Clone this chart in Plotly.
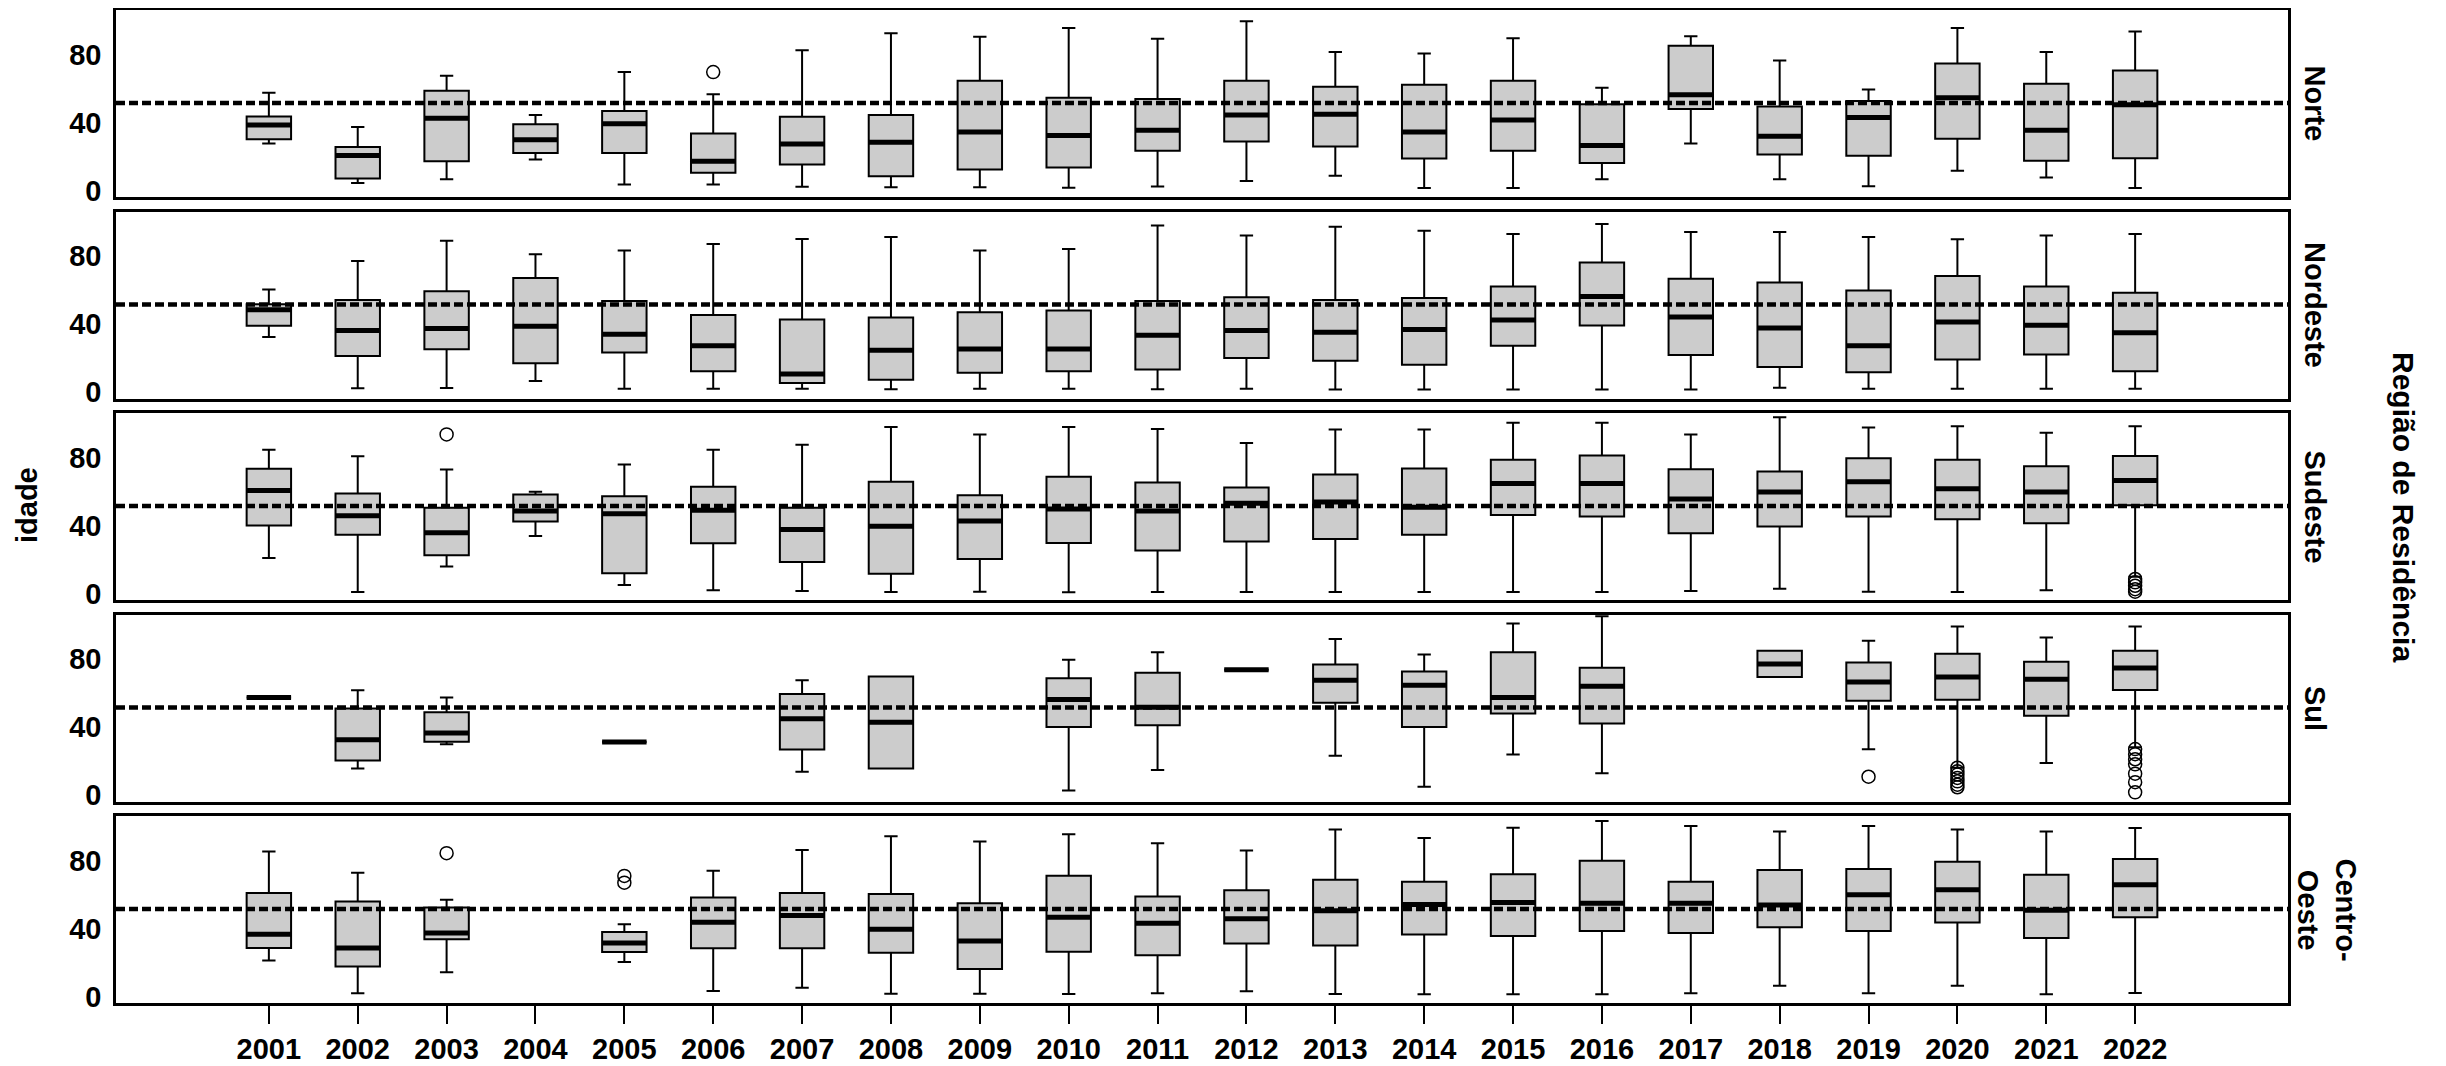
import plotly.graph_objects as go
from plotly.subplots import make_subplots

YEARS = list(range(2001, 2023))
REGIONS = ["Norte", "Nordeste", "Sudeste", "Sul", "Centro-<br>Oeste"]
REF_AGE = 51.5

# ---- Norte ----
NORTE_LO  = [27.6, 4.3, 6.5, 18.2, 3.5, 3.5, 2.2, 1.8, 1.8, 1.6, 2.3, 5.5, 8.6, 1.4, 1.4, 6.5, 27.6, 6.5, 2.5, 11.5, 7.6, 1.4]
NORTE_Q1  = [30.1, 7.0, 17.2, 22.1, 22.1, 10.4, 15.3, 8.4, 12.3, 13.5, 23.3, 28.8, 25.8, 18.8, 23.3, 16.2, 47.9, 21.1, 20.4, 30.5, 17.4, 19.0]
NORTE_MED = [38.6, 20.5, 42.5, 29.9, 39.3, 17.2, 27.4, 28.4, 34.4, 32.3, 35.4, 44.4, 44.8, 34.4, 41.5, 26.4, 56.4, 31.9, 42.9, 54.6, 35.4, 50.5]
NORTE_Q3  = [43.6, 25.6, 58.7, 38.9, 46.8, 33.5, 43.4, 44.4, 64.6, 54.6, 53.8, 64.6, 61.1, 62.2, 64.6, 50.7, 85.3, 49.5, 52.6, 74.8, 62.8, 70.6]
NORTE_HI  = [57.5, 37.4, 67.5, 44.4, 69.7, 56.6, 82.6, 92.6, 90.6, 95.7, 89.4, 99.6, 81.6, 80.6, 89.6, 60.5, 90.8, 76.5, 59.5, 95.7, 81.6, 93.7]
NORTE_OUT_X = [2006]
NORTE_OUT_Y = [69.7]

# ---- Nordeste ----
NORDESTE_LO  = [32.3, 2.1, 2.3, 6.4, 1.8, 1.9, 1.8, 1.6, 1.9, 1.9, 1.6, 1.8, 1.4, 1.4, 1.4, 1.4, 1.4, 2.5, 1.8, 1.8, 1.8, 1.8]
NORDESTE_Q1  = [38.9, 21.2, 25.1, 16.9, 23.2, 12.1, 5.3, 7.2, 11.3, 12.1, 13.2, 20.0, 18.3, 16.0, 27.2, 39.1, 21.8, 14.6, 11.5, 19.1, 22.0, 12.1]
NORDESTE_MED = [48.4, 36.2, 37.4, 38.7, 33.9, 27.2, 10.5, 24.5, 25.3, 25.3, 33.3, 36.2, 35.2, 36.8, 42.4, 56.2, 44.2, 37.7, 27.2, 41.2, 39.3, 34.8]
NORDESTE_Q3  = [51.6, 54.1, 59.3, 67.1, 53.5, 45.3, 42.6, 43.8, 46.9, 47.9, 53.5, 55.8, 54.1, 55.3, 62.1, 76.3, 66.7, 64.4, 59.7, 68.3, 62.1, 58.4]
NORDESTE_HI  = [60.3, 77.2, 89.1, 81.1, 83.3, 87.2, 90.1, 91.2, 83.3, 84.2, 98.1, 92.2, 97.3, 94.9, 93.0, 99.0, 94.2, 94.2, 91.2, 89.9, 92.2, 93.0]
NORDESTE_OUT_X = []
NORDESTE_OUT_Y = []

# ---- Sudeste ----
SUDESTE_LO  = [20.9, 0.8, 15.8, 33.8, 4.9, 1.8, 1.4, 0.8, 1.0, 0.6, 0.8, 0.8, 0.8, 0.8, 0.8, 0.8, 1.4, 2.7, 1.0, 0.8, 1.8, 9.8]
SUDESTE_Q1  = [40.0, 34.5, 22.4, 42.3, 11.9, 29.5, 18.5, 11.5, 20.3, 29.7, 25.2, 30.6, 32.0, 34.5, 46.2, 45.3, 35.5, 39.4, 45.3, 43.7, 41.4, 51.9]
SUDESTE_MED = [60.7, 45.7, 35.7, 48.6, 47.0, 49.0, 37.7, 39.6, 42.7, 49.8, 48.6, 53.1, 53.9, 50.7, 64.8, 64.8, 55.6, 59.7, 65.8, 61.7, 59.7, 66.5]
SUDESTE_Q3  = [73.4, 58.9, 50.5, 58.3, 57.2, 62.8, 50.5, 65.8, 57.8, 68.7, 65.4, 62.4, 70.0, 73.6, 78.8, 81.2, 73.2, 71.8, 79.6, 78.8, 74.9, 81.0]
SUDESTE_HI  = [84.7, 80.8, 73.0, 59.9, 75.9, 84.7, 87.6, 98.0, 93.7, 98.0, 96.8, 88.6, 96.6, 96.6, 100.5, 100.5, 93.7, 103.8, 97.8, 98.5, 94.6, 98.5]
SUDESTE_OUT_X = [2003, 2022, 2022, 2022, 2022, 2022]
SUDESTE_OUT_Y = [93.7, 8.5, 6.5, 4.5, 2.5, 1.0]

# ---- Sul (None = no data that year) ----
SUL_LO  = [57.4, 15.6, 29.9, None, 31.1, None, 13.7, 15.6, None, 2.6, 14.7, 73.7, 23.0, 4.8, 23.8, 12.7, None, 69.5, 26.9, 16.0, 18.8, 28.1]
SUL_Q1  = [57.4, 20.2, 31.3, None, 31.1, None, 26.7, 15.6, None, 40.0, 41.0, 73.7, 54.3, 40.0, 47.9, 42.0, None, 69.5, 55.4, 56.0, 46.7, 61.8]
SUL_MED = [57.4, 32.5, 36.4, None, 31.1, None, 44.8, 42.8, None, 56.2, 51.7, 73.7, 67.5, 64.6, 57.4, 64.0, None, 77.2, 66.5, 69.5, 68.1, 74.7]
SUL_Q3  = [57.4, 50.9, 48.7, None, 31.1, None, 59.4, 69.7, None, 68.7, 71.9, 73.7, 76.8, 72.7, 84.0, 74.9, None, 85.0, 78.0, 83.2, 78.4, 85.0]
SUL_HI  = [57.4, 61.6, 57.4, None, 31.1, None, 67.5, 69.7, None, 79.6, 84.0, 73.7, 91.9, 82.8, 101.0, 105.3, None, 85.0, 90.9, 99.2, 92.7, 99.2]
SUL_OUT_X = [2019, 2020, 2020, 2020, 2020, 2020, 2020, 2020, 2022, 2022, 2022, 2022, 2022, 2022, 2022]
SUL_OUT_Y = [10.7, 16.0, 14.0, 12.0, 10.0, 8.0, 6.0, 4.5, 27.0, 24.0, 21.0, 18.0, 12.5, 7.5, 1.5]

# ---- Centro-Oeste ----
CO_LO  = [21.1, 1.8, 14.2, None, 20.2, 3.2, 5.1, 1.6, 1.6, 1.4, 1.8, 3.0, 1.4, 1.2, 1.2, 1.2, 1.8, 6.3, 1.8, 6.3, 1.2, 2.0]
CO_Q1  = [28.5, 17.6, 33.6, None, 26.1, 28.3, 28.3, 25.7, 16.2, 26.3, 24.3, 31.2, 30.0, 36.4, 35.6, 38.5, 37.4, 40.7, 38.5, 43.5, 34.4, 46.6]
CO_MED = [36.6, 28.5, 37.4, None, 31.4, 43.7, 47.6, 39.5, 32.6, 46.6, 43.1, 45.7, 50.4, 54.2, 55.3, 54.9, 54.9, 53.8, 59.9, 62.8, 50.8, 65.8]
CO_Q3  = [60.9, 55.9, 52.4, None, 37.9, 58.3, 60.9, 60.3, 54.9, 71.1, 58.9, 62.6, 68.8, 67.6, 71.9, 80.0, 67.6, 74.5, 75.1, 79.4, 71.7, 81.0]
CO_HI  = [85.4, 72.9, 56.9, None, 42.5, 74.1, 86.2, 94.3, 91.3, 95.5, 90.3, 86.0, 98.4, 93.3, 99.4, 103.4, 100.4, 97.2, 100.4, 98.4, 97.2, 99.2]
CO_OUT_X = [2003, 2005, 2005]
CO_OUT_Y = [84.4, 71.0, 67.0]

Y_TICKS = [0, 40, 80]

PANELS = [
    (NORTE_LO, NORTE_Q1, NORTE_MED, NORTE_Q3, NORTE_HI, NORTE_OUT_X, NORTE_OUT_Y),
    (NORDESTE_LO, NORDESTE_Q1, NORDESTE_MED, NORDESTE_Q3, NORDESTE_HI, NORDESTE_OUT_X, NORDESTE_OUT_Y),
    (SUDESTE_LO, SUDESTE_Q1, SUDESTE_MED, SUDESTE_Q3, SUDESTE_HI, SUDESTE_OUT_X, SUDESTE_OUT_Y),
    (SUL_LO, SUL_Q1, SUL_MED, SUL_Q3, SUL_HI, SUL_OUT_X, SUL_OUT_Y),
    (CO_LO, CO_Q1, CO_MED, CO_Q3, CO_HI, CO_OUT_X, CO_OUT_Y),
]

# ---- layout geometry ----
# The page body has the browser's default 8px margin, so the figure is drawn
# 8px right and 8px down; all pixel targets below are page (screenshot) coords.
OFF = 8
W, H = 2430, 1058
PLOT_LEFT, PLOT_RIGHT = 116, 2288          # page x of plot area
FIRST_TOP, PANEL_H, GAP = 10, 187, 14.5    # page y of panel interiors
ML = PLOT_LEFT - OFF
MR = W - (PLOT_RIGHT - OFF)
MT = FIRST_TOP - OFF
PLOT_BOTTOM = FIRST_TOP + 5 * PANEL_H + 4 * GAP
MB = H - (PLOT_BOTTOM - OFF)
PLOT_W = W - ML - MR
PLOT_H = H - MT - MB
BOX_W = 0.5
FONT = "Liberation Sans"


def px_x(page_x):
    return (page_x - PLOT_LEFT) / PLOT_W


def px_y(page_y):
    return (PLOT_BOTTOM - page_y) / PLOT_H


fig = make_subplots(rows=5, cols=1, shared_xaxes=True, vertical_spacing=0.01)

for i, (lo, q1, med, q3, hi, ox, oy) in enumerate(PANELS):
    r = i + 1
    keep = [k for k in range(len(YEARS)) if med[k] is not None]
    xs = [YEARS[k] for k in keep]
    fig.add_trace(go.Box(
        x=xs,
        q1=[q1[k] for k in keep], median=[med[k] for k in keep], q3=[q3[k] for k in keep],
        lowerfence=[lo[k] for k in keep], upperfence=[hi[k] for k in keep],
        boxpoints=False, fillcolor="#cccccc", line=dict(color="black", width=2),
        width=BOX_W, whiskerwidth=0.3, showlegend=False, hoverinfo="skip",
    ), row=r, col=1)
    # thick median bars
    mx, my = [], []
    for k in keep:
        mx += [YEARS[k] - BOX_W / 2, YEARS[k] + BOX_W / 2, None]
        my += [med[k], med[k], None]
    fig.add_trace(go.Scatter(x=mx, y=my, mode="lines", line=dict(color="black", width=5),
                             showlegend=False, hoverinfo="skip"), row=r, col=1)
    if ox:
        fig.add_trace(go.Scatter(x=ox, y=oy, mode="markers",
                                 marker=dict(symbol="circle-open", size=13, color="black",
                                             line=dict(width=1.5, color="black")),
                                 showlegend=False, hoverinfo="skip"), row=r, col=1)

for i in range(5):
    r = i + 1
    top = FIRST_TOP + i * (PANEL_H + GAP)
    y1 = px_y(top)
    y0 = px_y(top + PANEL_H)
    ax_suffix = "" if r == 1 else str(r)
    fig.layout["yaxis" + ax_suffix].update(
        domain=[y0, y1], range=[-3.9, 106.3], tickvals=Y_TICKS, ticks="",
        showgrid=False, zeroline=False, showline=True, mirror=True, automargin=False,
        linecolor="black", linewidth=2.5, ticklabelstandoff=6,
        tickfont=dict(family=FONT, size=29, color="black", weight="bold"),
    )
    fig.layout["xaxis" + ax_suffix].update(
        range=[YEARS[0] - 1.72, YEARS[-1] + 1.72], tickvals=YEARS,
        ticktext=[str(y) for y in YEARS], automargin=False,
        showgrid=False, zeroline=False, showline=True, mirror=True,
        linecolor="black", linewidth=2.5,
        ticks="outside" if r == 5 else "", ticklen=18, tickwidth=1.5, tickcolor="black",
        showticklabels=(r == 5), ticklabelstandoff=0,
        tickfont=dict(family=FONT, size=29, color="black", weight="bold"),
    )
    fig.add_shape(type="line", xref="x" + ax_suffix + " domain", yref="y" + ax_suffix,
                  x0=0, x1=1, y0=REF_AGE, y1=REF_AGE, layer="above",
                  line=dict(color="black", width=4.5, dash="9px,4px"))
    # strip label
    fig.add_annotation(text=REGIONS[i], xref="paper", yref="paper",
                       x=px_x(2315) if r < 5 else px_x(2327),
                       y=(y0 + y1) / 2, textangle=90, showarrow=False,
                       xanchor="center", yanchor="middle",
                       font=dict(family=FONT, size=29, color="black", weight="bold"))

fig.add_annotation(text="idade", xref="paper", yref="paper",
                   x=px_x(27), y=px_y(505), textangle=-90, showarrow=False,
                   xanchor="center", yanchor="middle",
                   font=dict(family=FONT, size=29, color="black", weight="bold"))
fig.add_annotation(text="Região de Residência", xref="paper", yref="paper",
                   x=px_x(2404), y=px_y(507), textangle=90, showarrow=False,
                   xanchor="center", yanchor="middle",
                   font=dict(family=FONT, size=30, color="black", weight="bold"))

fig.update_layout(template="none", width=W, height=H,
                  margin=dict(l=ML, r=MR, t=MT, b=MB, autoexpand=False),
                  plot_bgcolor="white", paper_bgcolor="white", showlegend=False)

fig.write_html("out.html")
